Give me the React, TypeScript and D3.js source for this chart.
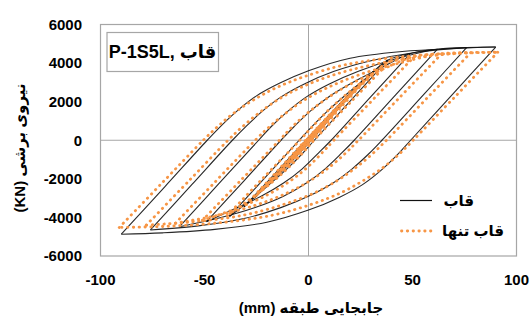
import React from 'react';
import * as d3 from 'd3';

type Pt = [number, number];

// tick labels
const xTicks = [-100, -50, 0, 50, 100];
const yTicks = [-6000, -4000, -2000, 0, 2000, 4000, 6000];

// "قاب" (frame) — one array per branch, peak to peak
const frameBranches: Pt[][] = [
  [[0, 0], [8, 950]],
  [[8, 950], [0, -30], [-8, -920]],
  [[-8, -920], [0, 30], [14, 1660]],
  [[14, 1660], [0, -50], [-14, -1620]],
  [[-14, -1620], [0, 40], [20, 2380]],
  [[20, 2380], [10, 1180], [0, -90], [-10, -1230], [-20, -2330]],
  [[-20, -2330], [-10, -1130], [0, 80], [10, 1250], [26, 3100]],
  [[26, 3100], [13, 1500], [0, -130], [-13, -1600], [-26, -3000]],
  [[-26, -3000], [-13, -1450], [0, 120], [15, 1850], [31, 3550]],
  [[31, 3550], [15, 1700], [0, -160], [-15, -1850], [-31, -3450]],
  [[-31, -3450], [-15, -1600], [0, 150], [20, 2430], [38, 4150]],
  [[38, 4150], [20, 2030], [2.8, 0], [-3, -700], [-11, -1550], [-20, -2400], [-29, -3200], [-38, -3950]],
  [[-38, -3950], [-21, -1950], [-4.5, 0], [2, 750], [10, 1600], [19, 2450], [28, 3250], [38, 4150], [49, 4500]],
  [[49, 4500], [30, 2260], [10.9, 0], [5, -640], [-3, -1480], [-12, -2220], [-23, -2920], [-36, -3580], [-49, -4220]],
  [[-49, -4220], [-31, -2100], [-13.2, 0], [-7, 700], [1, 1520], [10, 2270], [21, 2980], [34, 3700], [49, 4500], [62, 4720]],
  [[62, 4720], [42, 2360], [22, 0], [16, -660], [8, -1480], [-1, -2220], [-12, -2900], [-26, -3500], [-43, -4030], [-62, -4480]],
  [[-62, -4480], [-43, -2240], [-24, 0], [-18, 700], [-10, 1500], [-1, 2250], [10, 2920], [24, 3580], [42, 4220], [62, 4720], [76, 4800]],
  [[76, 4800], [56, 2440], [35.3, 0], [29, -700], [21, -1480], [12, -2200], [1, -2850], [-13, -3480], [-31, -4060], [-53, -4440], [-76, -4650]],
  [[-76, -4650], [-56, -2290], [-36.6, 0], [-30, 720], [-22, 1520], [-13, 2260], [-2, 2920], [12, 3560], [30, 4120], [52, 4560], [76, 4800], [90, 4830]],
  [[90, 4830], [70, 2470], [49.1, 0], [43, -720], [35, -1550], [26, -2300], [15, -2950], [0, -3620], [-20, -4250], [-45, -4620], [-70, -4800], [-90, -4870]],
  [[-90, -4870], [-69, -2400], [-48.7, 0], [-42, 750], [-34, 1550], [-25, 2300], [-14, 2950], [0, 3600], [20, 4250], [45, 4600], [70, 4760], [90, 4830]],
];

// "قاب تنها" (bare frame)
const bareBranches: Pt[][] = [
  [[0, 0], [7, 830]],
  [[7, 830], [0, -30], [-7, -800]],
  [[-7, -800], [0, 30], [13, 1520]],
  [[13, 1520], [0, -50], [-13, -1480]],
  [[-13, -1480], [0, 50], [19, 2230]],
  [[19, 2230], [9, 1050], [0, -90], [-10, -1200], [-19, -2200]],
  [[-19, -2200], [-9, -1000], [0, 90], [12, 1480], [25, 2930]],
  [[25, 2930], [12, 1400], [0, -130], [-12, -1500], [-25, -2850]],
  [[-25, -2850], [-12, -1350], [0, 130], [15, 1800], [30, 3400]],
  [[30, 3400], [15, 1650], [0, -160], [-15, -1800], [-30, -3330]],
  [[-30, -3330], [-15, -1600], [0, 160], [20, 2380], [39, 4080]],
  [[39, 4080], [21, 2060], [2.6, 0], [-3, -680], [-11, -1560], [-20, -2400], [-30, -3200], [-39, -3900]],
  [[-39, -3900], [-22, -1980], [-4.2, 0], [2, 720], [10, 1600], [19, 2450], [29, 3280], [39, 4080], [51, 4350]],
  [[51, 4350], [32, 2220], [12.2, 0], [7, -600], [-1, -1450], [-10, -2200], [-21, -2900], [-35, -3550], [-51, -4150]],
  [[-51, -4150], [-33, -2130], [-14, 0], [-8, 680], [0, 1450], [9, 2180], [20, 2900], [34, 3600], [51, 4350], [64, 4480]],
  [[64, 4480], [44, 2240], [24, 0], [18, -650], [10, -1400], [1, -2080], [-10, -2720], [-25, -3350], [-44, -3900], [-64, -4300]],
  [[-64, -4300], [-45, -2170], [-25.6, 0], [-19, 680], [-11, 1400], [-2, 2080], [9, 2720], [24, 3380], [43, 3980], [64, 4480], [78, 4540]],
  [[78, 4540], [58, 2300], [37.5, 0], [31, -680], [23, -1400], [14, -2080], [3, -2720], [-12, -3330], [-32, -3900], [-56, -4230], [-78, -4400]],
  [[-78, -4400], [-58, -2160], [-38.7, 0], [-32, 680], [-24, 1400], [-15, 2080], [-4, 2720], [11, 3350], [31, 3920], [55, 4330], [78, 4540], [91, 4560]],
  [[91, 4560], [71, 2320], [50.3, 0], [44, -680], [36, -1400], [27, -2050], [16, -2700], [2, -3300], [-18, -3900], [-45, -4300], [-70, -4470], [-91, -4520]],
  [[-91, -4520], [-71, -2280], [-50.6, 0], [-44, 680], [-36, 1400], [-27, 2050], [-16, 2700], [-2, 3300], [18, 3920], [45, 4330], [70, 4500], [91, 4560]],
];

const seriesNames = ['قاب', 'قاب تنها'];
const titleText = 'P-1S5L, قاب';
const xTitle = '(mm) جابجایی طبقه';
const yTitle = '(KN) نیروی برشی';

const W = 532;
const H = 320;
const left = 100.5, right = 516.5, top = 24.5, bottom = 256;
const FONT = "'Liberation Sans', 'DejaVu Sans', sans-serif";
const ORANGE = '#F79646';

export default function App() {
  const x = d3.scaleLinear().domain([-100, 100]).range([left, right]);
  const y = d3.scaleLinear().domain([-6000, 6000]).range([bottom, top]);

  const line = d3
    .line<Pt>()
    .x(d => x(d[0]))
    .y(d => y(d[1]))
    .curve(d3.curveCatmullRom.alpha(0.5));

  return (
    <svg width={W} height={H} style={{ position: 'absolute', left: 0, top: 0, background: '#fff' }} fontFamily={FONT}>
      <defs>
        <clipPath id="plot">
          <rect x={left} y={top} width={right - left} height={bottom - top} />
        </clipPath>
      </defs>

      {/* zero lines */}
      <line x1={x(0)} x2={x(0)} y1={top} y2={bottom} stroke="#a6a6a6" strokeWidth={1} />
      <line x1={left} x2={right} y1={y(0)} y2={y(0)} stroke="#a6a6a6" strokeWidth={1} />

      <g clipPath="url(#plot)">
        {frameBranches.map((b, i) => (
          <path key={'f' + i} d={line(b) || ''} fill="none" stroke="#111" strokeWidth={1.1} strokeOpacity={0.9} />
        ))}
        {bareBranches.map((b, i) => (
          <path
            key={'b' + i}
            d={line(b) || ''}
            fill="none"
            stroke={ORANGE}
            strokeWidth={2.8}
            strokeDasharray="0.4 5.4"
            strokeLinecap="round"
          />
        ))}
      </g>

      {/* plot frame */}
      <rect x={left} y={top} width={right - left} height={bottom - top} fill="none" stroke="#a6a6a6" strokeWidth={1.2} />

      {/* y tick labels */}
      {yTicks.map(t => (
        <text key={'y' + t} x={82} y={y(t)} dy="0.36em" textAnchor="end" fontSize={15} fontWeight="bold" fill="#000">
          {t}
        </text>
      ))}
      {/* x tick labels */}
      {xTicks.map(t => (
        <text key={'x' + t} x={x(t)} y={284.5} textAnchor="middle" fontSize={15} fontWeight="bold" fill="#000">
          {t}
        </text>
      ))}

      {/* axis titles */}
      <text x={311} y={313} textAnchor="middle" fontSize={15} fontWeight="bold" fill="#000">
        {xTitle}
      </text>
      <text transform="translate(25,148) rotate(-90)" textAnchor="middle" fontSize={15} fontWeight="bold" fill="#000">
        {yTitle}
      </text>

      {/* title box */}
      <rect x={107} y={32.5} width={111.5} height={39} fill="#fff" stroke="#a6a6a6" strokeWidth={1.2} />
      <text x={162.5} y={58} textAnchor="middle" fontSize={18} fontWeight="bold" fill="#000">
        {titleText}
      </text>

      {/* legend */}
      <line x1={400} x2={432} y1={200.5} y2={200.5} stroke="#111" strokeWidth={1.2} />
      <text x={474} y={205.5} textAnchor="end" fontSize={15} fontWeight="bold" fill="#000">
        {seriesNames[0]}
      </text>
      <line
        x1={401.5}
        x2={436}
        y1={231}
        y2={231}
        stroke={ORANGE}
        strokeWidth={2.8}
        strokeDasharray="0.4 5.4"
        strokeLinecap="round"
      />
      <text x={504} y={236} textAnchor="end" fontSize={15} fontWeight="bold" fill="#000">
        {seriesNames[1]}
      </text>
    </svg>
  );
}
